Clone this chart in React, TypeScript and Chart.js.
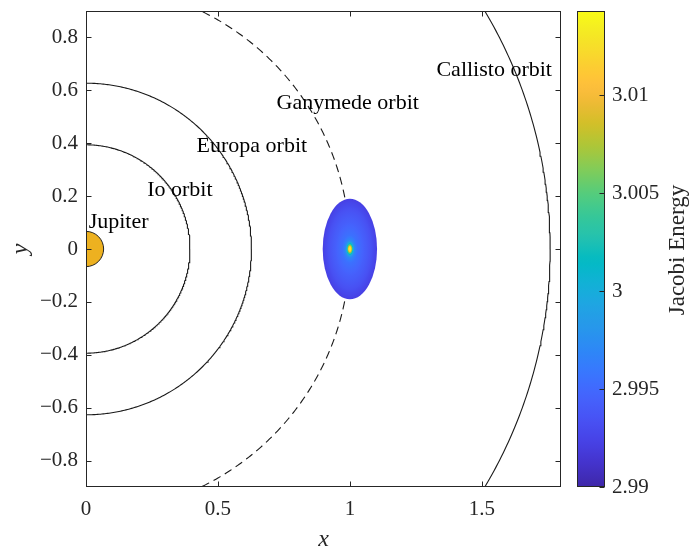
import React, { useEffect, useRef } from 'react';
import { Chart, registerables } from 'chart.js';

Chart.register(...registerables);

// ---------- data ----------
const xRange = [0, 1.8];
const yRange = [-0.9, 0.9];
const xTicks = [0, 0.5, 1, 1.5];
const yTicks = [-0.8, -0.6, -0.4, -0.2, 0, 0.2, 0.4, 0.6, 0.8];

const orbitNames = ['Io', 'Europa', 'Ganymede', 'Callisto'];
const orbitRadii = [0.394, 0.627, 1.0, 1.759];
const orbitDashed = [false, false, true, false];

const jupiterRadius = 0.0668;

const labelTexts = ['Jupiter', 'Io orbit', 'Europa orbit', 'Ganymede orbit', 'Callisto orbit'];
const labelX = [0.01, 0.232, 0.419, 0.722, 1.328];
const labelY = [0.078, 0.2016, 0.366, 0.529, 0.655];

// Hill region around Ganymede coloured by Jacobi energy
const regionCenter = [1.0, 0.0];
const regionSemiAxes = [0.103, 0.19];
const regionFrac = [0, 0.04, 0.065, 0.09, 0.12, 0.17, 0.27, 0.5, 0.8, 1.0];
const regionEnergy = [3.0143, 3.013, 3.008, 3.004, 3.0, 2.997, 2.9955, 2.9945, 2.9933, 2.9922];

const cbRange = [2.99, 3.0143];
const cbTicks = [2.99, 2.995, 3.0, 3.005, 3.01];
const cbLabel = 'Jacobi Energy';

// ---------- styling helpers ----------
const PARULA: [number, number, number][] = [
  [0.2422, 0.1504, 0.6603], [0.2647, 0.1978, 0.7952], [0.2783, 0.2559, 0.8991],
  [0.2810, 0.3228, 0.9579], [0.2699, 0.3892, 0.9906], [0.2206, 0.4603, 0.9973],
  [0.1786, 0.5289, 0.9689], [0.1540, 0.5902, 0.9218], [0.1248, 0.6459, 0.8883],
  [0.0689, 0.6948, 0.8394], [0.0067, 0.7312, 0.7660], [0.1408, 0.7584, 0.6842],
  [0.2161, 0.7843, 0.5923], [0.3406, 0.8008, 0.4789], [0.5044, 0.7993, 0.3480],
  [0.6720, 0.7793, 0.2227], [0.8203, 0.7498, 0.1535], [0.9393, 0.7288, 0.2100],
  [0.9956, 0.7434, 0.2371], [0.9952, 0.7893, 0.2028], [0.9786, 0.8386, 0.1766],
  [0.9610, 0.8890, 0.1537], [0.9628, 0.9373, 0.1265], [0.9769, 0.9839, 0.0805],
];
const PARULA_POS = [1, 4, 7, 10, 13, 16, 19, 22, 25, 28, 31, 34, 37, 40, 43, 46, 49, 52, 54, 56, 58, 60, 62, 64].map(i => (i - 1) / 63);

function parula(t: number): string {
  const tt = Math.max(0, Math.min(1, t));
  let i = 0;
  while (i < PARULA_POS.length - 2 && PARULA_POS[i + 1] < tt) i++;
  const f = (tt - PARULA_POS[i]) / (PARULA_POS[i + 1] - PARULA_POS[i]);
  const a = PARULA[i], b = PARULA[i + 1];
  const c = [0, 1, 2].map(k => Math.round(255 * (a[k] + (b[k] - a[k]) * Math.max(0, Math.min(1, f)))));
  return `rgb(${c[0]},${c[1]},${c[2]})`;
}
const energyT = (e: number) => (e - cbRange[0]) / (cbRange[1] - cbRange[0]);

function circlePoints(r: number) {
  const pts: { x: number; y: number }[] = [];
  for (let k = 0; k <= 720; k++) {
    const a = (k / 720) * 2 * Math.PI;
    pts.push({ x: r * Math.cos(a), y: r * Math.sin(a) });
  }
  return pts;
}

const AX = '#262626';
const FONT = '"Liberation Serif", "Times New Roman", serif';
const TICK_SIZE = 21;
const TITLE_SIZE = 23;

const fmtNum = (v: number) => String(+Number(v).toFixed(4)).replace('-', '\u2212');

const jovianPlugin = {
  id: 'jovian',
  beforeDatasetsDraw(chart: any) {
    const { ctx, chartArea: a, scales } = chart;
    const x = scales.x, y = scales.y;
    ctx.save();
    ctx.beginPath();
    ctx.rect(a.left, a.top, a.right - a.left, a.bottom - a.top);
    ctx.clip();
    const cx = x.getPixelForValue(0), cy = y.getPixelForValue(0);
    const r = x.getPixelForValue(jupiterRadius) - cx;
    ctx.beginPath();
    ctx.arc(cx, cy, r, 0, 2 * Math.PI);
    ctx.fillStyle = '#EDB120';
    ctx.fill();
    ctx.lineWidth = 1;
    ctx.strokeStyle = '#222';
    ctx.stroke();
    ctx.restore();
  },
  afterDatasetsDraw(chart: any) {
    const { ctx, chartArea: a, scales } = chart;
    const x = scales.x, y = scales.y;

    // Hill region ellipse
    const cx = x.getPixelForValue(regionCenter[0]);
    const cy = y.getPixelForValue(regionCenter[1]);
    const rx = Math.abs(x.getPixelForValue(regionCenter[0] + regionSemiAxes[0]) - cx);
    const ry = Math.abs(y.getPixelForValue(regionCenter[1] + regionSemiAxes[1]) - cy);
    ctx.save();
    ctx.translate(cx, cy);
    ctx.scale(rx / ry, 1);
    const g = ctx.createRadialGradient(0, 0, 0, 0, 0, ry);
    for (let i = 0; i < regionFrac.length - 1; i++) {
      const n = 6;
      for (let s = 0; s < n; s++) {
        const f = s / n;
        const fr = regionFrac[i] + (regionFrac[i + 1] - regionFrac[i]) * f;
        const en = regionEnergy[i] + (regionEnergy[i + 1] - regionEnergy[i]) * f;
        g.addColorStop(fr, parula(energyT(en)));
      }
    }
    g.addColorStop(1, parula(energyT(regionEnergy[regionEnergy.length - 1])));
    ctx.beginPath();
    ctx.arc(0, 0, ry, 0, 2 * Math.PI);
    ctx.fillStyle = g;
    ctx.fill();
    ctx.restore();

    // labels
    ctx.save();
    ctx.fillStyle = '#000';
    ctx.font = `22px ${FONT}`;
    ctx.textAlign = 'left';
    ctx.textBaseline = 'alphabetic';
    labelTexts.forEach((t, i) => {
      ctx.fillText(t, x.getPixelForValue(labelX[i]), y.getPixelForValue(labelY[i]));
    });
    ctx.restore();

    // axes box and inward ticks
    ctx.save();
    ctx.strokeStyle = AX;
    ctx.lineWidth = 1;
    const L = Math.round(a.left) + 0.5, R = Math.round(a.right) - 0.5;
    const T = Math.round(a.top) + 0.5, B = Math.round(a.bottom) - 0.5;
    ctx.strokeRect(L, T, R - L, B - T);
    const tl = 5;
    ctx.beginPath();
    x.ticks.forEach((t: any) => {
      const px = Math.round(x.getPixelForValue(t.value)) + 0.5;
      ctx.moveTo(px, B); ctx.lineTo(px, B - tl);
      ctx.moveTo(px, T); ctx.lineTo(px, T + tl);
    });
    y.ticks.forEach((t: any) => {
      const py = Math.round(y.getPixelForValue(t.value)) + 0.5;
      ctx.moveTo(L, py); ctx.lineTo(L + tl, py);
      ctx.moveTo(R, py); ctx.lineTo(R - tl, py);
    });
    ctx.stroke();
    ctx.restore();
  },
  afterDraw(chart: any) {
    const { ctx, chartArea: a, scales } = chart;
    const cb = scales.cb;
    const top = cb.getPixelForValue(cbRange[1]);
    const bot = cb.getPixelForValue(cbRange[0]);
    const bx0 = Math.round(a.right) + 16, bw = 28;
    ctx.save();
    const g = ctx.createLinearGradient(0, bot, 0, top);
    for (let k = 0; k <= 60; k++) g.addColorStop(k / 60, parula(k / 60));
    ctx.fillStyle = g;
    ctx.fillRect(bx0, top, bw, bot - top);
    ctx.strokeStyle = AX;
    ctx.lineWidth = 1;
    ctx.strokeRect(bx0 + 0.5, Math.round(top) + 0.5, bw - 1, Math.round(bot - top) - 1);
    ctx.beginPath();
    cb.ticks.forEach((t: any) => {
      const py = Math.round(cb.getPixelForValue(t.value)) + 0.5;
      ctx.moveTo(bx0 + bw - 0.5, py); ctx.lineTo(bx0 + bw - 5.5, py);
    });
    ctx.stroke();

    // colorbar label
    ctx.fillStyle = AX;
    ctx.font = `${TITLE_SIZE}px ${FONT}`;
    ctx.textAlign = 'center';
    ctx.textBaseline = 'alphabetic';
    ctx.translate(684, (top + bot) / 2 + 1);
    ctx.rotate(-Math.PI / 2);
    ctx.fillText(cbLabel, 0, 0);
    ctx.restore();

    // axis titles
    ctx.save();
    ctx.fillStyle = AX;
    ctx.font = `italic ${TITLE_SIZE + 1}px ${FONT}`;
    ctx.textAlign = 'center';
    ctx.textBaseline = 'alphabetic';
    ctx.fillText('x', (a.left + a.right) / 2, 546);
    ctx.translate(27, (a.top + a.bottom) / 2);
    ctx.rotate(-Math.PI / 2);
    ctx.fillText('y', 0, 0);
    ctx.restore();
  },
};

const zeroPad = (s: any) => { s.paddingTop = 0; s.paddingBottom = 0; s.paddingLeft = 0; s.paddingRight = 0; };
const noGrid = { display: false, drawTicks: false, tickLength: 0 };

export default function App() {
  const ref = useRef<HTMLCanvasElement | null>(null);
  useEffect(() => {
    if (!ref.current) return;
    const datasets = orbitNames.map((name, i) => ({
      label: `${name} orbit`,
      data: circlePoints(orbitRadii[i]),
      showLine: true,
      pointRadius: 0,
      borderColor: '#1a1a1a',
      borderWidth: 1.1,
      borderDash: orbitDashed[i] ? [8, 5] : [],
      tension: 0,
      fill: false,
    }));
    const tickFont = { family: FONT, size: TICK_SIZE };
    const chart = new Chart(ref.current, {
      type: 'scatter',
      data: { datasets },
      options: {
        responsive: false,
        animation: false,
        events: [],
        layout: { padding: { top: 11, left: 0, right: 0, bottom: 0 } },
        plugins: { legend: { display: false }, tooltip: { enabled: false } },
        scales: {
          x: {
            type: 'linear',
            min: xRange[0],
            max: xRange[1],
            grid: noGrid,
            border: { display: false },
            afterBuildTicks: (s: any) => { s.ticks = xTicks.map(v => ({ value: v })); },
            afterFit: (s: any) => { s.height = 62; zeroPad(s); },
            ticks: { font: tickFont, color: AX, padding: 10, maxRotation: 0, autoSkip: false, callback: (v: any) => fmtNum(v) },
          },
          y: {
            type: 'linear',
            min: yRange[0],
            max: yRange[1],
            grid: noGrid,
            border: { display: false },
            afterBuildTicks: (s: any) => { s.ticks = yTicks.map(v => ({ value: v })); },
            afterFit: (s: any) => { s.width = 86; zeroPad(s); },
            ticks: { font: tickFont, color: AX, padding: 8, autoSkip: false, callback: (v: any) => fmtNum(v) },
          },
          cb: {
            type: 'linear',
            axis: 'y',
            position: 'right',
            min: cbRange[0],
            max: cbRange[1],
            grid: noGrid,
            border: { display: false },
            afterBuildTicks: (s: any) => { s.ticks = cbTicks.map(v => ({ value: v })); },
            afterFit: (s: any) => { s.width = 128; zeroPad(s); },
            ticks: { font: tickFont, color: AX, padding: 51, autoSkip: false, callback: (v: any) => fmtNum(v) },
          },
        },
      } as any,
      plugins: [jovianPlugin],
    });
    return () => chart.destroy();
  }, []);
  return (
    <div style={{ position: 'absolute', left: 0, top: 0, width: 689, height: 549, background: '#fff' }}>
      <canvas ref={ref} width={689} height={549} style={{ display: 'block' }} />
    </div>
  );
}
